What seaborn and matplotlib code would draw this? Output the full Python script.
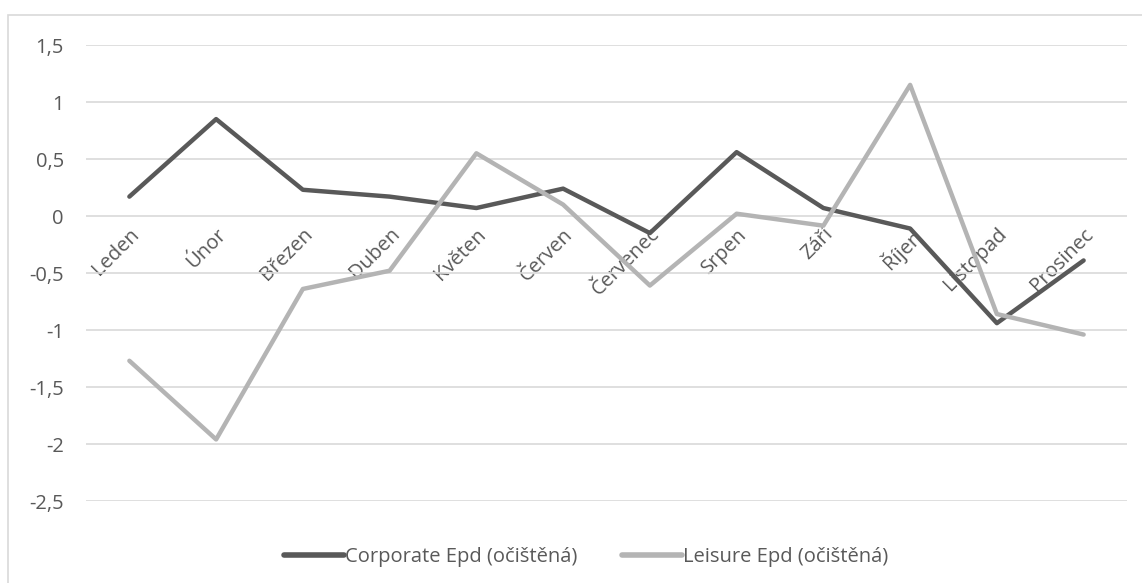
import numpy as np
import pandas as pd
import matplotlib
matplotlib.use('Agg')
import matplotlib.pyplot as plt
from matplotlib.ticker import FuncFormatter, MultipleLocator
from matplotlib.patches import Rectangle
import seaborn as sns

months = ["Leden", "Únor", "Březen", "Duben", "Květen", "Červen", "Červenec",
          "Srpen", "Září", "Říjen", "Listopad", "Prosinec"]
corporate = [0.17, 0.85, 0.23, 0.17, 0.07, 0.24, -0.15, 0.56, 0.07, -0.11, -0.94, -0.39]
leisure = [-1.27, -1.96, -0.64, -0.48, 0.55, 0.10, -0.61, 0.02, -0.085, 1.15, -0.86, -1.04]
series_names = ["Corporate Epd (očištěná)", "Leisure Epd (očištěná)"]

df = pd.concat([
    pd.DataFrame({"month": months, "value": corporate, "series": series_names[0]}),
    pd.DataFrame({"month": months, "value": leisure, "series": series_names[1]}),
])

sns.set_style("white")
plt.rcParams['font.family'] = ['Open Sans', 'DejaVu Sans']
text_col = "#595959"
fs = 14.5

fig = plt.figure(figsize=(11.42, 5.83), dpi=100)
ax = fig.add_axes([86/1142, 1 - 501/583, (1127 - 86)/1142, (501 - 45)/583])

sns.lineplot(data=df, x="month", y="value", hue="series", sort=False,
             palette=["#595959", "#b4b4b4"], linewidth=3.2, ax=ax, legend=True)

ax.set_xlim(-0.5, 11.5)
ax.set_ylim(-2.5, 1.5)
ax.yaxis.set_major_locator(MultipleLocator(0.5))
ax.yaxis.set_major_formatter(FuncFormatter(lambda v, p: f"{v:g}".replace('.', ',')))
ax.yaxis.grid(True, color="#d9d9d9", linewidth=1.2)
ax.set_axisbelow(True)
for s in ["left", "right", "top"]:
    ax.spines[s].set_visible(False)
ax.spines['bottom'].set_position(('data', 0))
ax.spines['bottom'].set_visible(False)
ax.tick_params(axis='y', length=0, pad=16, labelsize=fs, labelcolor=text_col)
ax.tick_params(axis='x', length=0, pad=6, labelsize=fs, labelcolor=text_col)
ax.set_xlabel("")
ax.set_ylabel("")
for lbl in ax.get_xticklabels():
    lbl.set_rotation(45)
    lbl.set_ha('right')
    lbl.set_va('top')
    lbl.set_rotation_mode('anchor')

handles, labels = ax.get_legend_handles_labels()
ax.legend_.remove()
for h in handles:
    h.set_linewidth(4)
fig.legend(handles, labels, loc='center', bbox_to_anchor=(586/1142, 1 - 557/583),
           ncol=2, frameon=False, handlelength=3, handletextpad=0.05,
           columnspacing=2.2, fontsize=fs, labelcolor=text_col)

fig.patches.append(Rectangle((8/1142, -0.05), 1.1, 1 - 15/583 + 0.05,
                             transform=fig.transFigure, fill=False,
                             edgecolor="#d9d9d9", linewidth=1.2))

fig.savefig("out.png", dpi=100)
plt.close()
